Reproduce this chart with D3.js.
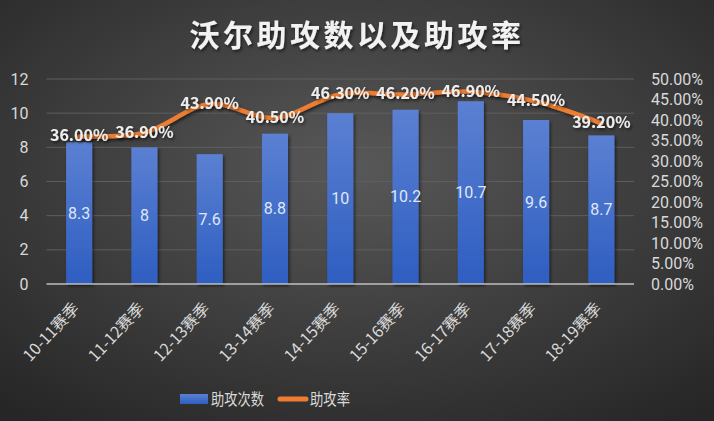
<!DOCTYPE html>
<html>
<head>
<meta charset="utf-8">
<script src="https://cdn.jsdelivr.net/npm/d3@7"></script>
<style>
  html, body { margin: 0; padding: 0; background: #333; }
  svg { display: block; font-family: "Noto Sans CJK SC", "Noto Sans", sans-serif; }
</style>
</head>
<body>
<div id="chart"></div>
<script>
const width = 714;
const height = 421;

// chart data
const seasons = ["10-11赛季", "11-12赛季", "12-13赛季", "13-14赛季", "14-15赛季",
                 "15-16赛季", "16-17赛季", "17-18赛季", "18-19赛季"];
const assists = [8.3, 8, 7.6, 8.8, 10, 10.2, 10.7, 9.6, 8.7];
const assistRate = [0.36, 0.369, 0.439, 0.405, 0.463, 0.462, 0.469, 0.445, 0.392];
const leftTicks = [0, 2, 4, 6, 8, 10, 12];
const rightTicks = [0, 0.05, 0.1, 0.15, 0.2, 0.25, 0.3, 0.35, 0.4, 0.45, 0.5];

const margin = { left: 46.5, right: 80, top: 79, bottom: 137 };
const numFont = "Roboto, 'Noto Sans', sans-serif";

const svg = d3.select("#chart").append("svg")
    .attr("width", width)
    .attr("height", height);

const defs = svg.append("defs");

const bg = defs.append("radialGradient")
    .attr("id", "bg")
    .attr("cx", "50%").attr("cy", "40%").attr("r", "75%");
bg.append("stop").attr("offset", "0%").attr("stop-color", "#585858");
bg.append("stop").attr("offset", "100%").attr("stop-color", "#262626");

const barGrad = defs.append("linearGradient")
    .attr("id", "barGrad")
    .attr("x1", 0).attr("y1", 0).attr("x2", 0).attr("y2", 1);
barGrad.append("stop").attr("offset", "0%").attr("stop-color", "#5b80d2");
barGrad.append("stop").attr("offset", "100%").attr("stop-color", "#2e5ec1");

const shadow = defs.append("filter").attr("id", "shadow")
    .attr("x", "-20%").attr("y", "-20%").attr("width", "140%").attr("height", "140%");
shadow.append("feDropShadow")
    .attr("dx", 1.5).attr("dy", 2).attr("stdDeviation", 1.5)
    .attr("flood-color", "#000").attr("flood-opacity", 0.55);

svg.append("rect")
    .attr("width", width).attr("height", height)
    .attr("fill", "url(#bg)");

// title
svg.append("text")
    .attr("x", 357).attr("y", 46)
    .attr("text-anchor", "middle")
    .attr("fill", "#f2f2f2")
    .attr("font-size", 30)
    .attr("font-weight", "bold")
    .attr("letter-spacing", 3.5)
    .attr("filter", "url(#shadow)")
    .text("沃尔助攻数以及助攻率");

const x = d3.scaleBand()
    .domain(seasons)
    .range([margin.left, width - margin.right])
    .paddingInner(0.6)
    .paddingOuter(0.3);

const y = d3.scaleLinear()
    .domain([0, 12])
    .range([height - margin.bottom, margin.top]);

const y2 = d3.scaleLinear()
    .domain([0, 0.5])
    .range([height - margin.bottom, margin.top]);

const cx = d => x(d) + x.bandwidth() / 2;

// gridlines
svg.append("g")
    .selectAll("line")
    .data(leftTicks.slice(1))
    .enter().append("line")
    .attr("x1", margin.left).attr("x2", width - margin.right)
    .attr("y1", d => y(d)).attr("y2", d => y(d))
    .attr("stroke", "#5e5e5e")
    .attr("stroke-width", 1);

// left axis
const leftAxis = svg.append("g")
    .attr("transform", `translate(${margin.left - 18},0)`)
    .call(d3.axisLeft(y).tickValues(leftTicks).tickSize(0).tickPadding(0));
leftAxis.select(".domain").remove();
leftAxis.selectAll("text")
    .attr("fill", "#d9d9d9")
    .attr("font-size", 16)
    .attr("font-family", numFont);

// right axis
const rightAxis = svg.append("g")
    .attr("transform", `translate(${width - margin.right + 17},0)`)
    .call(d3.axisRight(y2).tickValues(rightTicks).tickSize(0).tickPadding(0)
        .tickFormat(d => (d * 100).toFixed(2) + "%"));
rightAxis.select(".domain").remove();
rightAxis.selectAll("text")
    .attr("fill", "#d9d9d9")
    .attr("font-size", 16)
    .attr("font-family", numFont);

// bars
svg.append("g")
    .selectAll("rect")
    .data(assists)
    .enter().append("rect")
    .attr("x", (d, i) => x(seasons[i]))
    .attr("y", d => y(d))
    .attr("width", x.bandwidth())
    .attr("height", d => y(0) - y(d))
    .attr("fill", "url(#barGrad)")
    .attr("filter", "url(#shadow)");

// bar labels
svg.append("g")
    .selectAll("text")
    .data(assists)
    .enter().append("text")
    .attr("x", (d, i) => cx(seasons[i]))
    .attr("y", d => (y(d) + y(0)) / 2)
    .attr("dy", "0.35em")
    .attr("text-anchor", "middle")
    .attr("fill", "#dfe7f7")
    .attr("font-size", 16)
    .attr("font-family", numFont)
    .text(d => d);

// baseline
svg.append("line")
    .attr("x1", margin.left).attr("x2", width - margin.right)
    .attr("y1", y(0)).attr("y2", y(0))
    .attr("stroke", "#bfbfbf")
    .attr("stroke-width", 1.5);

// x labels
svg.append("g")
    .selectAll("text")
    .data(seasons)
    .enter().append("text")
    .attr("transform", d => `translate(${cx(d) + 1},${y(0) + 25}) rotate(-47)`)
    .attr("text-anchor", "end")
    .attr("fill", "#d9d9d9")
    .attr("font-size", 16)
    .text(d => d);

// rate line
const line = d3.line()
    .x((d, i) => cx(seasons[i]))
    .y(d => y2(d))
    .curve(d3.curveCatmullRom.alpha(0.5));

svg.append("path")
    .datum(assistRate)
    .attr("d", line)
    .attr("fill", "none")
    .attr("stroke", "#ed7d31")
    .attr("stroke-width", 4.5)
    .attr("stroke-linecap", "round")
    .attr("stroke-linejoin", "round")
    .attr("filter", "url(#shadow)");

// rate labels
svg.append("g")
    .selectAll("text")
    .data(assistRate)
    .enter().append("text")
    .attr("x", (d, i) => cx(seasons[i]))
    .attr("y", d => y2(d))
    .attr("dy", "0.3em")
    .attr("text-anchor", "middle")
    .attr("fill", "#ededed")
    .attr("font-size", 16)
    .attr("font-weight", "bold")
    .attr("filter", "url(#shadow)")
    .text(d => (d * 100).toFixed(2) + "%");

// legend
const legend = svg.append("g");
legend.append("rect")
    .attr("x", 180).attr("y", 394)
    .attr("width", 28).attr("height", 10)
    .attr("fill", "url(#barGrad)");
legend.append("text")
    .attr("x", 211).attr("y", 399)
    .attr("dy", "0.35em")
    .attr("fill", "#d9d9d9")
    .attr("font-size", 16)
    .attr("textLength", 53)
    .attr("lengthAdjust", "spacingAndGlyphs")
    .text("助攻次数");
legend.append("line")
    .attr("x1", 280).attr("x2", 306)
    .attr("y1", 399).attr("y2", 399)
    .attr("stroke", "#ed7d31")
    .attr("stroke-width", 5)
    .attr("stroke-linecap", "round");
legend.append("text")
    .attr("x", 310).attr("y", 399)
    .attr("dy", "0.35em")
    .attr("fill", "#d9d9d9")
    .attr("font-size", 16)
    .attr("textLength", 40)
    .attr("lengthAdjust", "spacingAndGlyphs")
    .text("助攻率");
</script>
</body>
</html>
